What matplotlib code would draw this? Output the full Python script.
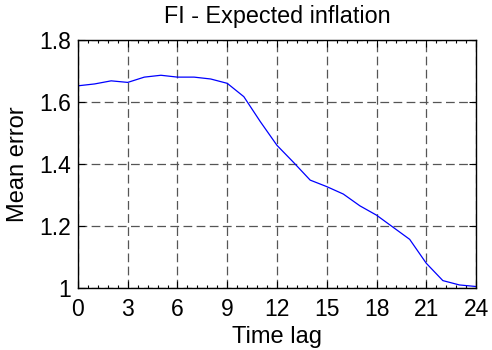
import matplotlib
matplotlib.use("Agg")
import matplotlib.pyplot as plt
from matplotlib.ticker import MultipleLocator

plt.rcParams['font.family'] = ['Liberation Sans', 'DejaVu Sans']

time_lag = list(range(25))
mean_error = [1.652, 1.658, 1.668, 1.663, 1.680, 1.686, 1.680, 1.680, 1.674,
              1.660, 1.617, 1.536, 1.460, 1.405, 1.348, 1.327, 1.303, 1.265,
              1.235, 1.196, 1.157, 1.080, 1.024, 1.010, 1.005]
x_ticks = [0, 3, 6, 9, 12, 15, 18, 21, 24]
y_ticks = [1.0, 1.2, 1.4, 1.6, 1.8]
y_tick_labels = ['1', '1.2', '1.4', '1.6', '1.8']

fig = plt.figure(figsize=(4.92, 3.5), dpi=100)
ax = fig.add_axes([0.1585, 0.177, 0.809, 0.709])

ax.plot(time_lag, mean_error, color='#0000ff', linewidth=0.9)

ax.set_xlim(0, 24)
ax.set_ylim(1.0, 1.8)
ax.set_xticks(x_ticks)
ax.set_yticks(y_ticks)
ax.set_yticklabels(y_tick_labels)
ax.xaxis.set_minor_locator(MultipleLocator(0.6))

ax.grid(True, which='major', linestyle=(0, (7, 3.5)), color='#555555', linewidth=0.9)
ax.tick_params(which='both', direction='in', top=True, right=True,
               labelsize=16.5, width=0.8)
ax.tick_params(axis='x', which='both', pad=7)
ax.tick_params(axis='y', which='both', pad=5)
ax.tick_params(which='major', length=5)
ax.tick_params(which='minor', length=2.5)
for sp in ax.spines.values():
    sp.set_linewidth(1.0)
    sp.set_color('black')

ax.set_title('FI - Expected inflation', fontsize=16.8, pad=12)
ax.set_xlabel('Time lag', fontsize=17, labelpad=4)
ax.set_ylabel('Mean error', fontsize=17, labelpad=7)

fig.savefig('out.png', dpi=100)
